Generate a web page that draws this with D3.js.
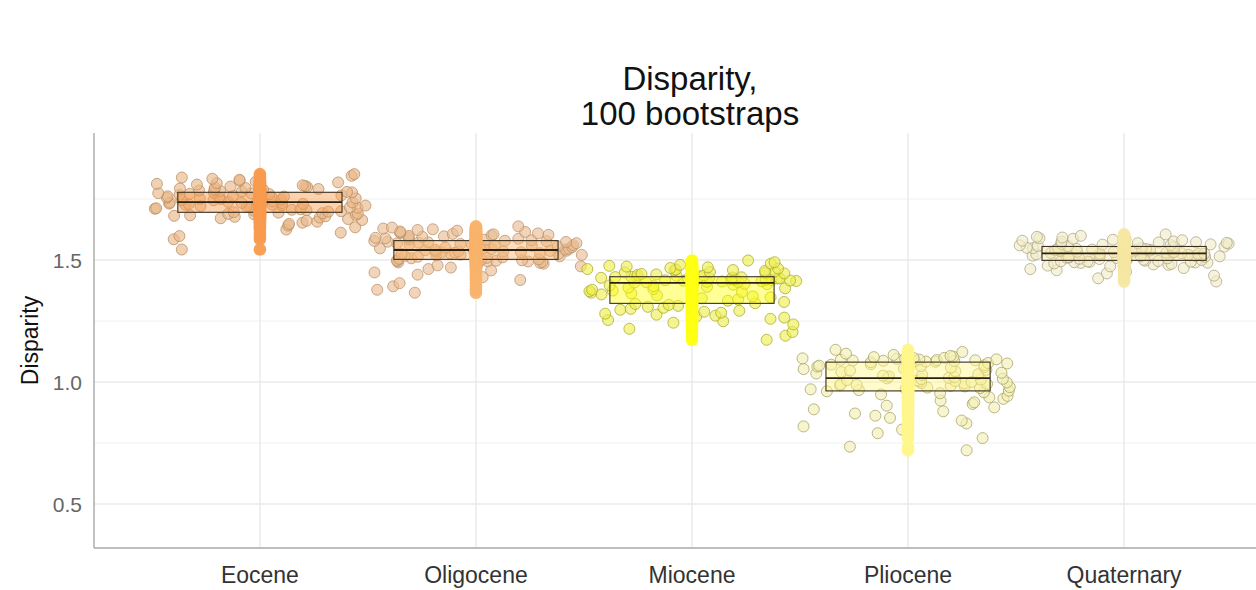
<!DOCTYPE html>
<html>
<head>
<meta charset="utf-8">
<script src="https://cdn.jsdelivr.net/npm/d3@7"></script>
<style>
  html, body { margin: 0; padding: 0; background: #fff; }
  svg { display: block; font-family: "Liberation Sans", Arial, sans-serif; }
</style>
</head>
<body>
<svg id="chart" width="1256" height="590"></svg>
<script>
// Epochs on the x axis
const categories = ["Eocene", "Oligocene", "Miocene", "Pliocene", "Quaternary"];

// Disparity of each of the 100 bootstrap replicates per epoch
const eocene = [
  1.543, 1.585, 1.598, 1.612, 1.625, 1.634, 1.641, 1.648, 1.653, 1.657, 1.661, 1.664, 1.668, 1.671, 1.674, 1.677, 1.679, 1.681, 1.683, 1.685, 1.687, 1.689, 1.690, 1.692, 1.694,
  1.696, 1.698, 1.700, 1.702, 1.704, 1.706, 1.708, 1.710, 1.712, 1.714, 1.716, 1.718, 1.719, 1.721, 1.723, 1.724, 1.726, 1.727, 1.729, 1.730, 1.731, 1.733, 1.734, 1.735, 1.736,
  1.738, 1.740, 1.741, 1.743, 1.745, 1.746, 1.748, 1.750, 1.751, 1.753, 1.755, 1.756, 1.758, 1.760, 1.761, 1.763, 1.765, 1.767, 1.768, 1.770, 1.771, 1.773, 1.774, 1.776, 1.777,
  1.779, 1.781, 1.783, 1.785, 1.787, 1.789, 1.791, 1.793, 1.795, 1.797, 1.799, 1.801, 1.803, 1.806, 1.809, 1.812, 1.815, 1.818, 1.821, 1.825, 1.829, 1.833, 1.838, 1.845, 1.852
];
const oligocene = [
  1.366, 1.378, 1.392, 1.405, 1.418, 1.430, 1.440, 1.449, 1.457, 1.463, 1.469, 1.474, 1.478, 1.482, 1.485, 1.488, 1.490, 1.492, 1.494, 1.495, 1.496, 1.497, 1.498, 1.499, 1.501,
  1.503, 1.505, 1.507, 1.509, 1.511, 1.513, 1.515, 1.517, 1.519, 1.521, 1.522, 1.524, 1.525, 1.527, 1.528, 1.530, 1.531, 1.532, 1.534, 1.535, 1.536, 1.537, 1.538, 1.539, 1.540,
  1.542, 1.543, 1.545, 1.546, 1.548, 1.549, 1.551, 1.553, 1.554, 1.556, 1.558, 1.559, 1.561, 1.563, 1.564, 1.566, 1.568, 1.569, 1.571, 1.572, 1.574, 1.575, 1.577, 1.578, 1.579,
  1.581, 1.583, 1.585, 1.587, 1.589, 1.591, 1.593, 1.595, 1.597, 1.599, 1.601, 1.603, 1.605, 1.607, 1.609, 1.611, 1.613, 1.615, 1.617, 1.620, 1.623, 1.626, 1.629, 1.633, 1.638
];
const miocene = [
  1.173, 1.190, 1.205, 1.218, 1.228, 1.236, 1.243, 1.249, 1.254, 1.259, 1.264, 1.268, 1.272, 1.276, 1.280, 1.284, 1.288, 1.292, 1.296, 1.300, 1.304, 1.308, 1.312, 1.316, 1.320,
  1.323, 1.328, 1.333, 1.338, 1.343, 1.347, 1.351, 1.355, 1.359, 1.363, 1.366, 1.369, 1.372, 1.375, 1.378, 1.381, 1.384, 1.387, 1.390, 1.393, 1.396, 1.399, 1.401, 1.403, 1.405,
  1.408, 1.409, 1.410, 1.411, 1.412, 1.413, 1.414, 1.415, 1.416, 1.417, 1.418, 1.419, 1.420, 1.421, 1.422, 1.423, 1.424, 1.425, 1.426, 1.427, 1.428, 1.429, 1.430, 1.431, 1.431,
  1.433, 1.435, 1.437, 1.439, 1.441, 1.443, 1.445, 1.447, 1.449, 1.451, 1.453, 1.455, 1.457, 1.459, 1.461, 1.463, 1.465, 1.467, 1.470, 1.473, 1.476, 1.480, 1.485, 1.491, 1.498
];
const pliocene = [
  0.720, 0.735, 0.770, 0.790, 0.805, 0.818, 0.830, 0.842, 0.853, 0.862, 0.871, 0.880, 0.888, 0.896, 0.903, 0.910, 0.917, 0.924, 0.931, 0.937, 0.943, 0.949, 0.954, 0.958, 0.962,
  0.964, 0.967, 0.970, 0.972, 0.975, 0.977, 0.979, 0.982, 0.984, 0.986, 0.988, 0.990, 0.992, 0.994, 0.996, 0.998, 1.000, 1.002, 1.004, 1.006, 1.008, 1.010, 1.012, 1.013, 1.015,
  1.017, 1.020, 1.023, 1.026, 1.029, 1.032, 1.035, 1.038, 1.041, 1.044, 1.047, 1.050, 1.053, 1.056, 1.059, 1.061, 1.063, 1.065, 1.067, 1.069, 1.071, 1.073, 1.076, 1.078, 1.081,
  1.083, 1.084, 1.085, 1.086, 1.087, 1.088, 1.089, 1.090, 1.091, 1.092, 1.093, 1.094, 1.095, 1.096, 1.097, 1.098, 1.099, 1.100, 1.102, 1.104, 1.107, 1.111, 1.116, 1.123, 1.132
];
const quaternary = [
  1.412, 1.425, 1.436, 1.445, 1.452, 1.458, 1.463, 1.467, 1.471, 1.474, 1.477, 1.480, 1.482, 1.484, 1.486, 1.488, 1.489, 1.490, 1.491, 1.492, 1.493, 1.494, 1.495, 1.496, 1.497,
  1.499, 1.500, 1.501, 1.503, 1.504, 1.505, 1.507, 1.508, 1.509, 1.511, 1.512, 1.513, 1.515, 1.516, 1.517, 1.518, 1.519, 1.520, 1.521, 1.522, 1.523, 1.524, 1.525, 1.526, 1.526,
  1.528, 1.529, 1.530, 1.531, 1.532, 1.533, 1.534, 1.535, 1.537, 1.538, 1.539, 1.540, 1.541, 1.542, 1.543, 1.545, 1.546, 1.547, 1.548, 1.549, 1.550, 1.551, 1.553, 1.554, 1.555,
  1.557, 1.558, 1.560, 1.561, 1.563, 1.564, 1.566, 1.567, 1.569, 1.570, 1.572, 1.573, 1.575, 1.576, 1.578, 1.579, 1.581, 1.583, 1.585, 1.587, 1.589, 1.592, 1.595, 1.599, 1.605
];

const yTicks = [0.5, 1.0, 1.5];
const yMinorTicks = [0.75, 1.25, 1.75];
const titleLines = ["Disparity,", "100 bootstraps"];
const yTitle = "Disparity";

// Epoch colours: solid strip, jittered points and their outlines
const epochColors  = ["#F99B4E", "#F9B36C", "#FFFF14", "#FFF68C", "#F6E7A2"];
const pointFills   = ["#E9B88A", "#EABD93", "#EEEE55", "#F3EFB6", "#F1ECCB"];
const pointStrokes = ["#B98B5E", "#BA9068", "#A9A92A", "#A79F5E", "#ACA27E"];

const series = [eocene, oligocene, miocene, pliocene, quaternary];

const svg = d3.select("#chart");
const W = 1256;
const panel = { left: 94, top: 133, bottom: 548, right: 1290 };

const x = d3.scalePoint()
  .domain(categories)
  .range([panel.left, panel.right])
  .padding(0.768);
const step = x.step();

const y = d3.scaleLinear()
  .domain([0.3197, 2.0205])
  .range([panel.bottom, panel.top]);

// grid
const grid = svg.append("g");
grid.selectAll("line.minor").data(yMinorTicks).join("line")
  .attr("x1", panel.left).attr("x2", W)
  .attr("y1", d => y(d)).attr("y2", d => y(d))
  .attr("stroke", "#f0f0f0").attr("stroke-width", 1);
grid.selectAll("line.major").data(yTicks).join("line")
  .attr("x1", panel.left).attr("x2", W)
  .attr("y1", d => y(d)).attr("y2", d => y(d))
  .attr("stroke", "#e2e2e2").attr("stroke-width", 1.2);
grid.selectAll("line.v").data(categories).join("line")
  .attr("x1", d => x(d)).attr("x2", d => x(d))
  .attr("y1", panel.top).attr("y2", panel.bottom)
  .attr("stroke", "#e6e6e6").attr("stroke-width", 1.2);

// jittered replicate points
const rng = d3.randomLcg(0.2718);
const jitterHalf = 0.49 * step;
const pts = [];
series.forEach((vals, i) => {
  vals.forEach(v => pts.push({ i, v, dx: (rng() * 2 - 1) * jitterHalf }));
});
svg.append("g").selectAll("circle").data(pts).join("circle")
  .attr("cx", d => x(categories[d.i]) + d.dx)
  .attr("cy", d => y(d.v))
  .attr("r", 5.5)
  .attr("fill", d => pointFills[d.i])
  .attr("fill-opacity", 0.65)
  .attr("stroke", d => pointStrokes[d.i])
  .attr("stroke-opacity", 0.75)
  .attr("stroke-width", 1);

// boxes: quartiles and median
const boxHalf = 0.38 * step;
const stats = series.map((vals, i) => {
  const s = vals.slice().sort(d3.ascending);
  return {
    i,
    q1: d3.quantileSorted(s, 0.25),
    med: d3.quantileSorted(s, 0.5),
    q3: d3.quantileSorted(s, 0.75)
  };
});
const boxes = svg.append("g");
boxes.selectAll("rect").data(stats).join("rect")
  .attr("x", d => x(categories[d.i]) - boxHalf)
  .attr("width", 2 * boxHalf)
  .attr("y", d => y(d.q3))
  .attr("height", d => y(d.q1) - y(d.q3))
  .attr("fill", d => epochColors[d.i])
  .attr("fill-opacity", 0.45)
  .attr("stroke", "#3a3020")
  .attr("stroke-width", 1.1);
boxes.selectAll("line").data(stats).join("line")
  .attr("x1", d => x(categories[d.i]) - boxHalf)
  .attr("x2", d => x(categories[d.i]) + boxHalf)
  .attr("y1", d => y(d.med)).attr("y2", d => y(d.med))
  .attr("stroke", "#2a2010")
  .attr("stroke-width", 1.8);

// solid strip of replicates on each epoch centre
svg.append("g").selectAll("circle").data(pts).join("circle")
  .attr("cx", d => x(categories[d.i]))
  .attr("cy", d => y(d.v))
  .attr("r", 6.3)
  .attr("fill", d => epochColors[d.i])
  .attr("fill-opacity", 0.95);

// axes lines
svg.append("line")
  .attr("x1", panel.left).attr("x2", panel.left)
  .attr("y1", panel.top).attr("y2", panel.bottom)
  .attr("stroke", "#a8a8a8").attr("stroke-width", 1.4);
svg.append("line")
  .attr("x1", panel.left).attr("x2", W)
  .attr("y1", panel.bottom).attr("y2", panel.bottom)
  .attr("stroke", "#a8a8a8").attr("stroke-width", 1.4);

// y tick labels
svg.append("g").selectAll("text").data(yTicks).join("text")
  .attr("x", 82)
  .attr("y", d => y(d))
  .attr("dy", "0.36em")
  .attr("text-anchor", "end")
  .attr("font-size", 21)
  .attr("fill", "#666")
  .text(d => d3.format(".1f")(d));

// x tick labels
svg.append("g").selectAll("text").data(categories).join("text")
  .attr("x", d => x(d))
  .attr("y", 583)
  .attr("text-anchor", "middle")
  .attr("font-size", 23)
  .attr("fill", "#333")
  .text(d => d);

// y axis title
svg.append("text")
  .attr("transform", `translate(38, ${(panel.top + panel.bottom) / 2}) rotate(-90)`)
  .attr("text-anchor", "middle")
  .attr("font-size", 23)
  .attr("fill", "#111")
  .text(yTitle);

// title
svg.append("text")
  .attr("text-anchor", "middle")
  .attr("font-size", 33)
  .attr("fill", "#111")
  .selectAll("tspan").data(titleLines).join("tspan")
  .attr("x", 690)
  .attr("y", (d, k) => 90 + k * 35)
  .text(d => d);
</script>
</body>
</html>
